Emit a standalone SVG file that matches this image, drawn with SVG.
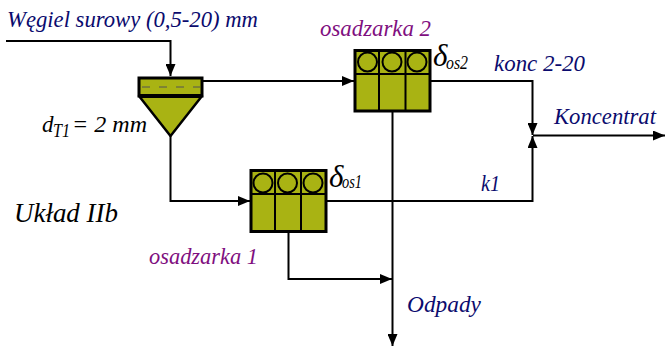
<svg xmlns="http://www.w3.org/2000/svg" width="665" height="346" viewBox="0 0 665 346">
<style>
text{font-family:"Liberation Serif","DejaVu Serif",serif;font-style:italic}
.n{fill:#0b0b6e;font-size:23px}
.p{fill:#7f0f7f;font-size:23px}
.k{fill:#000;font-size:23px}
.d{fill:#000;font-size:31px}
.s{fill:#000;font-size:18px}
.c{fill:none;stroke:#000;stroke-width:2}
.box{fill:#a9b313;stroke:#000;stroke-width:3}
.r{fill:none;stroke:#000;stroke-width:2}
</style>
<defs>
<marker id="a" markerUnits="userSpaceOnUse" markerWidth="12" markerHeight="10" refX="12" refY="5" orient="auto"><path d="M0,0L12,5L0,10Z" fill="#000"/></marker>
</defs>
<rect width="665" height="346" fill="#fff"/>
<g id="connectors">
<path class="c" d="M6,41H170.500V76" marker-end="url(#a)"/>
<path class="c" d="M202,81H354" marker-end="url(#a)"/>
<path class="c" d="M170.500,136V201H250" marker-end="url(#a)"/>
<path class="c" d="M430,81H532.500V135" marker-end="url(#a)"/>
<path class="c" d="M327,201H532.500V136" marker-end="url(#a)"/>
<path class="c" d="M533,135.500H665" marker-end="url(#a)"/>
<path class="c" d="M392.500,112V346" marker-end="url(#a)"/>
<path class="c" d="M288.500,232V279H392" marker-end="url(#a)"/>
</g>
<g id="classifier">
<path d="M139,96H202L170.500,136Z" fill="#a9b313" stroke="#000" stroke-width="2.500" stroke-linejoin="round"/>
<rect x="139" y="78" width="63" height="18" fill="#a9b313" stroke="#000" stroke-width="3"/>
<path d="M140,96H201" stroke="#000" stroke-width="4"/>
<path d="M142,87H200" stroke="#555" stroke-width="1" stroke-dasharray="8 9"/>
</g>
<g id="osadzarka2">
<rect class="box" x="355" y="50.500" width="75" height="60.500"/>
<path class="r" d="M355,74H430M379,50.500V111M405.500,50.500V111"/>
<circle class="r" cx="367.500" cy="62" r="9.500"/><circle class="r" cx="392" cy="62" r="9.500"/><circle class="r" cx="417" cy="62" r="9.500"/>
</g>
<g id="osadzarka1">
<rect class="box" x="251" y="170.500" width="75" height="61"/>
<path class="r" d="M251,194H326M275,170.500V231.500M301,170.500V231.500"/>
<circle class="r" cx="263" cy="183" r="9.500"/><circle class="r" cx="287.500" cy="183" r="9.500"/><circle class="r" cx="313" cy="183" r="9.500"/>
</g>
<g id="labels">
<text class="n" x="7" y="27" textLength="251" lengthAdjust="spacingAndGlyphs">Węgiel surowy (0,5-20) mm</text>
<text class="p" x="320" y="36" textLength="111" lengthAdjust="spacingAndGlyphs">osadzarka 2</text>
<text class="p" x="149" y="264" textLength="109" lengthAdjust="spacingAndGlyphs">osadzarka 1</text>
<text class="d" x="433" y="66">δ</text><text class="s" x="446" y="69" textLength="22" lengthAdjust="spacingAndGlyphs">os2</text>
<text class="d" x="329" y="187">δ</text><text class="s" x="342" y="188" textLength="20" lengthAdjust="spacingAndGlyphs">os1</text>
<text class="n" x="494" y="71" textLength="91" lengthAdjust="spacingAndGlyphs">konc 2-20</text>
<text class="n" x="554" y="124" textLength="102" lengthAdjust="spacingAndGlyphs">Koncentrat</text>
<text class="n" x="481" y="191" textLength="19" lengthAdjust="spacingAndGlyphs">k1</text>
<text class="n" x="407" y="312" textLength="74" lengthAdjust="spacingAndGlyphs">Odpady</text>
<text class="k" x="42" y="132">d</text><text class="s" x="53" y="137" textLength="17" lengthAdjust="spacingAndGlyphs">T1</text><text class="k" x="72" y="132" textLength="75" lengthAdjust="spacingAndGlyphs">= 2 mm</text>
<text x="14" y="222" font-size="28" fill="#000" textLength="104" lengthAdjust="spacingAndGlyphs">Układ IIb</text>
</g>
</svg>
